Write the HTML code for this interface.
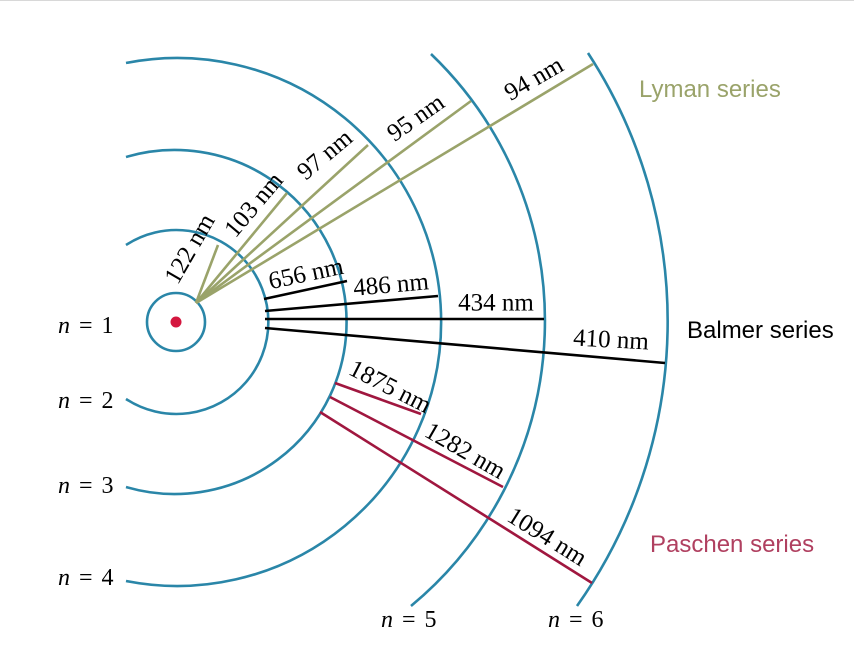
<!DOCTYPE html>
<html><head><meta charset="utf-8"><style>
html,body{margin:0;padding:0;background:#fff;width:854px;height:668px;overflow:hidden}
svg{display:block}
.t{font-family:"Liberation Serif",serif;font-size:25px;fill:#000}
.n{font-family:"Liberation Serif",serif;font-size:24px;fill:#000;word-spacing:3px}
.s{font-family:"Liberation Sans",sans-serif;font-size:24px}
</style></head><body>
<svg width="854" height="668" viewBox="0 0 854 668" xmlns="http://www.w3.org/2000/svg">
<line x1="0" y1="0.5" x2="854" y2="0.5" stroke="#d8d8d8" stroke-width="1"/>
<g fill="none" stroke="#2a86a8" stroke-width="2.6">
<circle cx="176" cy="322" r="29"/>
<path d="M126,245 A92,92 0 1 1 126,399"/>
<path d="M126,157 A172,172 0 1 1 126,487"/>
<path d="M126,63 A264,264 0 1 1 126,581"/>
<path d="M431,54 A370,370 0 0 1 411,606"/>
<path d="M588,53 A492,492 0 0 1 577,606"/>
</g>
<circle cx="176" cy="322" r="5.5" fill="#d4173f"/>
<g stroke="#9aa36a" stroke-width="2.6">
<line x1="196" y1="303" x2="218" y2="245"/>
<line x1="196" y1="303" x2="287" y2="193"/>
<line x1="196" y1="303" x2="368" y2="145"/>
<line x1="196" y1="303" x2="471" y2="101"/>
<line x1="196" y1="303" x2="593" y2="64"/>
</g>
<g stroke="#000" stroke-width="2.6">
<line x1="264" y1="299" x2="347" y2="281"/>
<line x1="265" y1="311" x2="438" y2="296"/>
<line x1="265" y1="319" x2="544" y2="319"/>
<line x1="265" y1="328" x2="665" y2="363"/>
</g>
<g stroke="#a0173f" stroke-width="2.6">
<line x1="335" y1="383" x2="421" y2="414"/>
<line x1="330" y1="397" x2="503" y2="487"/>
<line x1="320" y1="412" x2="592" y2="583"/>
</g>
<g class="t" text-anchor="middle" dominant-baseline="central">
<text transform="translate(190,249) rotate(-60)">122 nm</text>
<text transform="translate(254,205) rotate(-50)">103 nm</text>
<text transform="translate(325,155) rotate(-40)">97 nm</text>
<text transform="translate(416,118) rotate(-35)">95 nm</text>
<text transform="translate(534,79) rotate(-30)">94 nm</text>
<text transform="translate(306,274) rotate(-12)">656 nm</text>
<text transform="translate(391,285) rotate(-5)">486 nm</text>
<text transform="translate(496,303)">434 nm</text>
<text transform="translate(611,340) rotate(3)">410 nm</text>
<text transform="translate(390,387) rotate(27)">1875 nm</text>
<text transform="translate(465,451) rotate(30)">1282 nm</text>
<text transform="translate(547,537) rotate(32)">1094 nm</text>
</g>
<g class="n">
<text x="58" y="333"><tspan font-style="italic">n</tspan> = 1</text>
<text x="58" y="408"><tspan font-style="italic">n</tspan> = 2</text>
<text x="58" y="493"><tspan font-style="italic">n</tspan> = 3</text>
<text x="58" y="585"><tspan font-style="italic">n</tspan> = 4</text>
<text x="381" y="627"><tspan font-style="italic">n</tspan> = 5</text>
<text x="548" y="627"><tspan font-style="italic">n</tspan> = 6</text>
</g>
<text class="s" x="639" y="97" fill="#9aa36a">Lyman series</text>
<text class="s" x="687" y="338" fill="#000">Balmer series</text>
<text class="s" x="650" y="552" fill="#b04060">Paschen series</text>
</svg>
</body></html>
